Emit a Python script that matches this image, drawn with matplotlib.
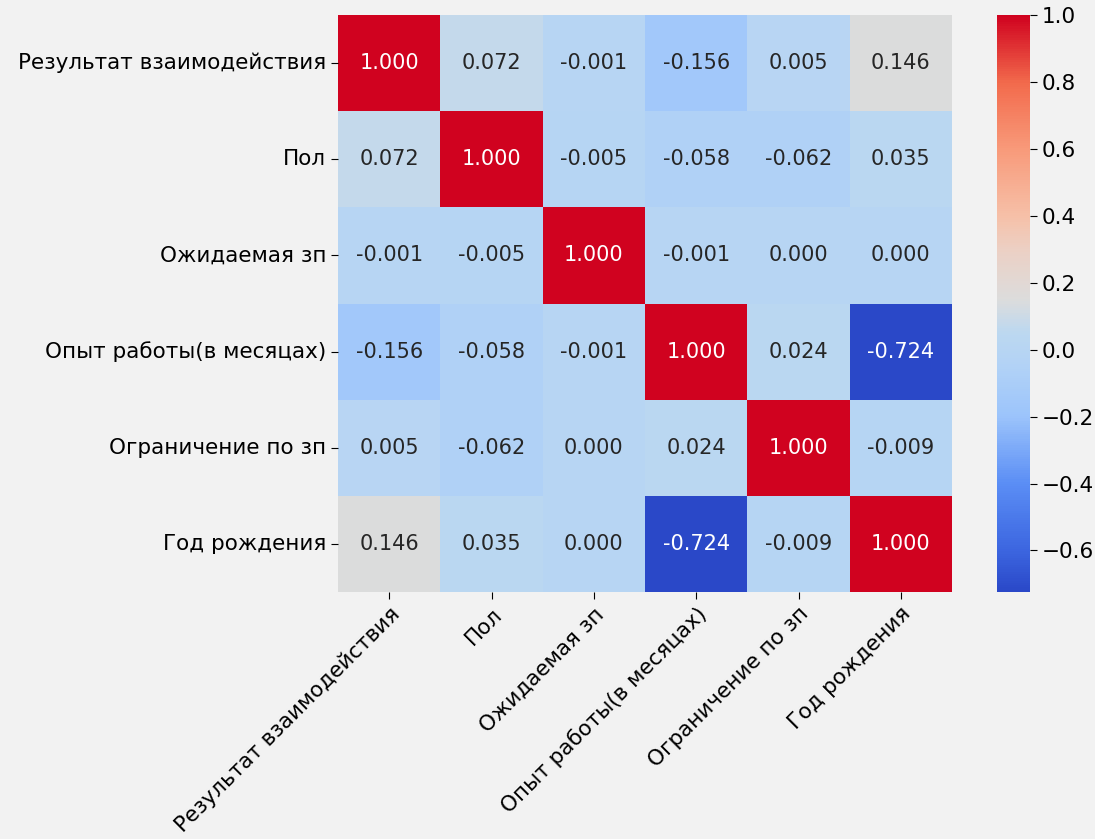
import numpy as np
import matplotlib
matplotlib.use("Agg")
import matplotlib.pyplot as plt
from matplotlib.colors import LinearSegmentedColormap
import seaborn as sns

labels = ["Результат взаимодействия", "Пол", "Ожидаемая зп",
          "Опыт работы(в месяцах)", "Ограничение по зп", "Год рождения"]

corr = [
    [1.000, 0.072, -0.001, -0.156, 0.005, 0.146],
    [0.072, 1.000, -0.005, -0.058, -0.062, 0.035],
    [-0.001, -0.005, 1.000, -0.001, 0.000, 0.000],
    [-0.156, -0.058, -0.001, 1.000, 0.024, -0.724],
    [0.005, -0.062, 0.000, 0.024, 1.000, -0.009],
    [0.146, 0.035, 0.000, -0.724, -0.009, 1.000],
]

vmin, vmax = -0.724, 1.0
anchors = [(-0.724, "#2a48c8"), (-0.6, "#3c66e0"), (-0.4, "#5b8ef5"),
           (-0.2, "#9cc4fb"), (-0.05, "#b2d2f6"), (0.05, "#bcd8f0"),
           (0.15, "#dcdcdc"), (0.3, "#ecd0c4"), (0.4, "#f6c0a8"),
           (0.6, "#f89a7a"), (0.8, "#f26a4c"), (1.0, "#d0021f")]
cmap = LinearSegmentedColormap.from_list(
    "ref", [((v - vmin) / (vmax - vmin), c) for v, c in anchors])

bg = "#f2f2f2"
W, H = 1095, 839
fig = plt.figure(figsize=(W / 100, H / 100), dpi=100, facecolor=bg)
ax = fig.add_axes([338 / W, 1 - 592 / H, 614 / W, 577 / H])
cax = fig.add_axes([997 / W, 1 - 592 / H, 33 / W, 577 / H])

data = np.array(corr)
sns.heatmap(data, annot=False, cmap=cmap, vmin=vmin, vmax=vmax,
            xticklabels=labels, yticklabels=labels, ax=ax, cbar_ax=cax)
for i in range(data.shape[0]):
    for j in range(data.shape[1]):
        v = data[i, j]
        light = abs(v) > 0.5
        ax.text(j + 0.5, i + 0.5, f"{v:.3f}", ha="center", va="center",
                fontsize=15, color=("#ffffff" if light else "#262626"),
                zorder=10)
ax.set_facecolor(bg)
ax.tick_params(axis="both", labelsize=15.5, length=5)
plt.setp(ax.get_xticklabels(), rotation=45, ha="right", rotation_mode="anchor")
plt.setp(ax.get_yticklabels(), rotation=0)
cax.tick_params(labelsize=15.5, length=5)
cax.set_yticks([-0.6, -0.4, -0.2, 0.0, 0.2, 0.4, 0.6, 0.8, 1.0])

fig.savefig("out.png", dpi=100, facecolor=bg)
